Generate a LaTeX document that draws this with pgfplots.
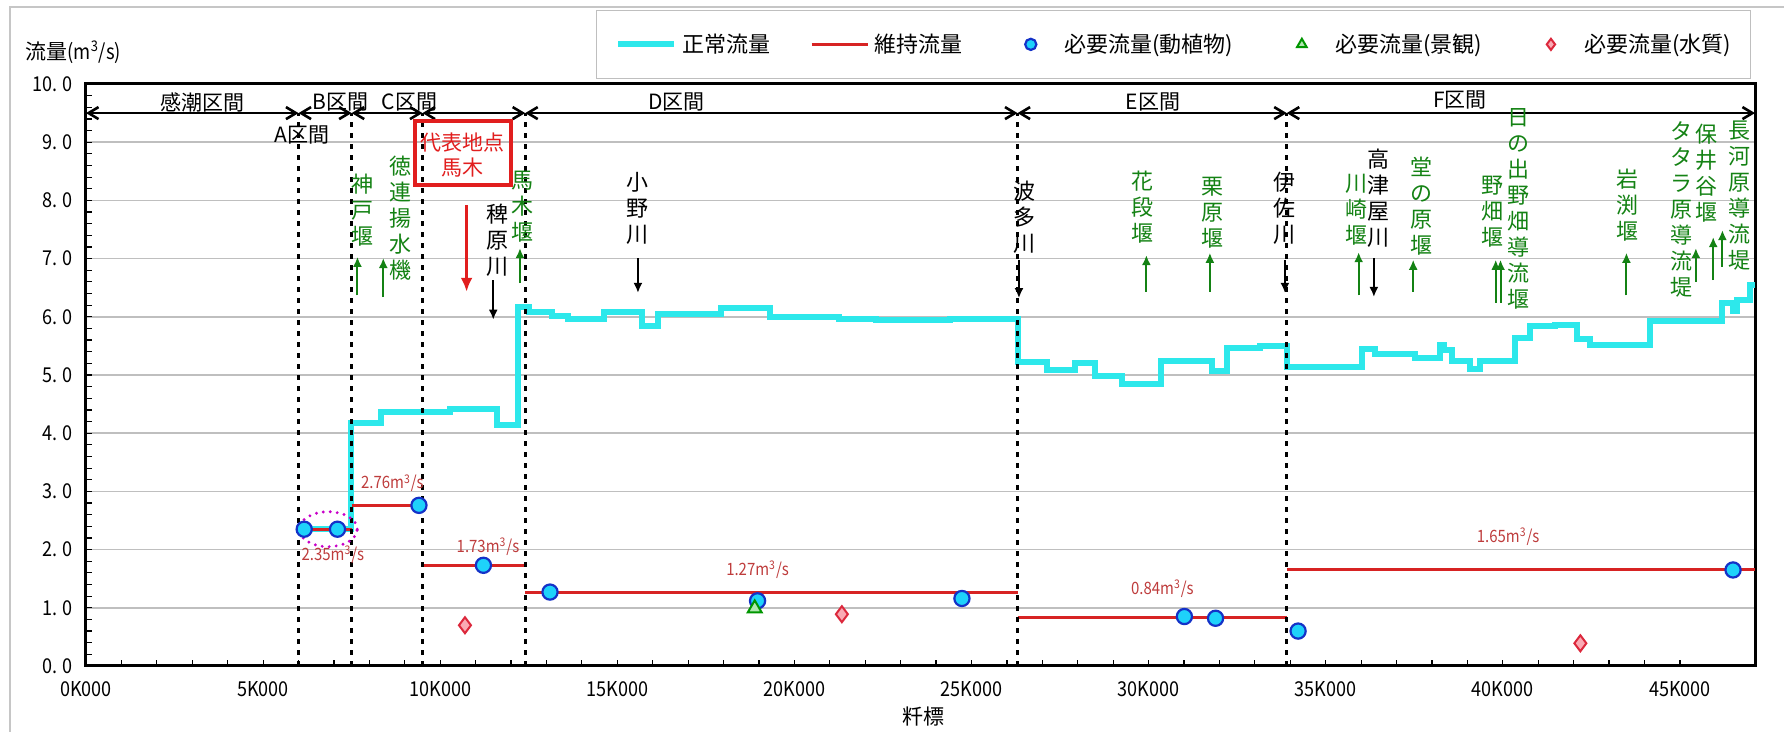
\documentclass[border=0pt]{standalone}
\usepackage{fontspec}
\setmainfont{Noto Sans CJK JP}
\newfontfamily\numfont[FakeStretch=0.88]{Noto Sans CJK JP}
\usepackage{pgfplots}
\pgfplotsset{compat=1.18}
\usetikzlibrary{arrows.meta}

\definecolor{cyanline}{RGB}{45,232,235}
\definecolor{redline}{RGB}{215,35,35}
\definecolor{circfill}{RGB}{30,210,250}
\definecolor{circdraw}{RGB}{20,50,200}
\definecolor{diafill}{RGB}{250,170,180}
\definecolor{diadraw}{RGB}{220,40,60}
\definecolor{trifill}{RGB}{175,230,175}
\definecolor{tridraw}{RGB}{0,150,0}
\definecolor{weir}{RGB}{20,130,20}
\definecolor{vallab}{RGB}{190,60,60}
\definecolor{boxred}{RGB}{225,30,30}
\definecolor{ellip}{RGB}{200,0,200}

% vertical text column: colour, x, y, text
\newcommand{\vlab}[4]{\node[text=#1, font=\fontsize{11pt}{13pt}\selectfont, align=center, inner sep=0pt] at (axis cs:#2,#3) {#4};}
% arrow: colour, x, from y, to y
\newcommand{\varr}[4]{\draw[#1, line width=1pt, -{Latex[length=5pt,width=4.5pt]}] (axis cs:#2,#3) -- (axis cs:#2,#4);}
\newcommand{\qlab}[3]{\node[text=vallab, font=\fontsize{8.5pt}{9pt}\numfont, inner sep=0pt] at (axis cs:#1,#2) {#3m\textsuperscript{3}/s};}
\pgfplotsset{secarrow/.style={black, line width=1.3pt,
  {Straight Barb[length=5pt,width=6pt]}-{Straight Barb[length=5pt,width=6pt]}, forget plot},
  secline/.style={black, line width=1.6pt, dash pattern=on 2.5pt off 3pt, forget plot},
  lineleg/.style={legend image code/.code={\draw[##1] (0pt,0pt) -- (28pt,0pt);}},
  markleg/.style={legend image code/.code={\path (0pt,0pt) (28pt,0pt); \draw[##1, mark size=2.8pt] plot coordinates {(14pt,0pt)};}}}

\begin{document}
\begin{tikzpicture}
\useasboundingbox (0,0) rectangle (892pt,366pt);
\draw[gray!45, line width=0.6pt] (5pt,0) -- (5pt,362.5pt) -- (892pt,362.5pt);
\node[anchor=west, inner sep=0pt, font=\fontsize{10.5pt}{12pt}\selectfont] at (12.5pt,340pt)
  {流量{\numfont(m\textsuperscript{3}/s)}};
\node[inner sep=0pt, font=\fontsize{10.5pt}{12pt}\selectfont] at (461.5pt,7.5pt) {粁標};

\begin{axis}[
  at={(43pt,33pt)}, anchor=south west,
  width=834.5pt, height=291pt, scale only axis,
  xmin=0, xmax=47120, ymin=0, ymax=10,
  clip=false,
  axis line style={line width=1.5pt},
  scaled x ticks=false,
  xtick={0,5000,10000,15000,20000,25000,30000,35000,40000,45000},
  xticklabels={0K000,5K000,10K000,15K000,20K000,25K000,30K000,35K000,40K000,45K000},
  ytick={0,1,2,3,4,5,6,7,8,9,10},
  yticklabels={0.\kern2.5pt0,1.\kern2.5pt0,2.\kern2.5pt0,3.\kern2.5pt0,4.\kern2.5pt0,5.\kern2.5pt0,
    6.\kern2.5pt0,7.\kern2.5pt0,8.\kern2.5pt0,9.\kern2.5pt0,10.\kern2.5pt0},
  minor x tick num=4, minor y tick num=4,
  tick pos=left, tick align=inside,
  major tick length=3pt, minor tick length=3pt,
  tick style={black, line width=0.6pt},
  ymajorgrids, grid style={line width=0.75pt, color=gray!50},
  ticklabel style={font=\fontsize{10.25pt}{12pt}\numfont},
  xticklabel style={yshift=-4pt},
  yticklabel style={xshift=-3pt},
  legend columns=5,
  legend style={at={(0.9976,1.1271)}, anchor=north east, draw=gray!50, line width=0.6pt,
    font=\fontsize{11pt}{12pt}\selectfont, inner xsep=9.5pt, inner ysep=11.5pt,
    nodes={inner sep=0pt},
    /tikz/every odd column/.append style={column sep=2.5pt},
    /tikz/every even column/.append style={column sep=20pt}},
  legend cell align=left,
]
% 正常流量
\addplot[cyanline, line width=3pt, const plot, lineleg] coordinates {
  (6000,2.35)(7470,4.18)(8320,4.37)(10270,4.42)(11590,4.14)(12200,6.16)
  (12520,6.08)(13170,6.02)(13620,5.97)(14620,6.08)(15700,5.84)(16150,6.04)
  (17930,6.15)(19300,5.99)(21270,5.97)(22300,5.94)(24380,5.96)(26300,5.23)
  (27140,5.09)(27920,5.20)(28480,4.99)(29260,4.84)(30350,5.24)(31800,5.07)
  (32220,5.47)(33140,5.49)(33920,5.14)(36030,5.45)(36390,5.36)(37520,5.30)
  (38220,5.52)(38350,5.43)(38570,5.24)(39070,5.10)(39350,5.24)(40340,5.63)
  (40760,5.84)(41470,5.86)(42100,5.61)(42460,5.52)(44150,5.93)(46200,6.23)
  (46500,6.10)(46620,6.29)(46980,6.55)(47120,6.55)};
\addlegendentry{正常流量}
% 維持流量
\addplot[redline, line width=1.5pt, jump mark left, lineleg] coordinates {
  (6000,2.35)(7500,2.76)(9500,1.73)(12400,1.27)(26300,0.84)(33900,1.65)(47120,1.65)};
\addlegendentry{維持流量}

% section boundaries
\addplot[secline] coordinates {(6000,0)(6000,9.5)};
\addplot[secline] coordinates {(7500,0)(7500,9.5)};
\addplot[secline] coordinates {(9500,0)(9500,9.5)};
\addplot[secline] coordinates {(12400,0)(12400,9.5)};
\addplot[secline] coordinates {(26300,0)(26300,9.5)};
\addplot[secline] coordinates {(33900,0)(33900,9.5)};
\addplot[secarrow] coordinates {(0,9.5)(6000,9.5)};
\addplot[secarrow] coordinates {(6000,9.5)(7500,9.5)};
\addplot[secarrow] coordinates {(7500,9.5)(9500,9.5)};
\addplot[secarrow] coordinates {(9500,9.5)(12400,9.5)};
\addplot[secarrow] coordinates {(12400,9.5)(26300,9.5)};
\addplot[secarrow] coordinates {(26300,9.5)(33900,9.5)};
\addplot[secarrow] coordinates {(33900,9.5)(47120,9.5)};

% 必要流量
\addplot[only marks, mark=*, mark size=3.8pt, mark options={fill=circfill, draw=circdraw, line width=1.1pt}, markleg] coordinates {
  (6160,2.35)(7100,2.35)(9400,2.76)(11220,1.73)(13100,1.27)(18960,1.12)
  (24730,1.16)(31010,0.85)(31890,0.82)(34220,0.60)(46500,1.65)};
\addlegendentry{必要流量(動植物)}
\addplot[only marks, mark=triangle*, mark size=4pt, mark options={fill=trifill, draw=tridraw, line width=1pt}, markleg] coordinates {
  (18880,0.99)};
\addlegendentry{必要流量(景観)}
\addplot[only marks, mark=diamond*, mark size=4pt, mark options={fill=diafill, draw=diadraw, line width=1pt}, markleg] coordinates {
  (10700,0.70)(21340,0.89)(42190,0.39)};
\addlegendentry{必要流量(水質)}

% section names
\node[font=\fontsize{10.5pt}{12pt}\selectfont] at (axis cs:3303,9.69) {感潮区間};
\node[font=\fontsize{10.5pt}{12pt}\selectfont] at (axis cs:6098,9.12) {A区間};
\node[font=\fontsize{10.5pt}{12pt}\selectfont] at (axis cs:7187,9.69) {B区間};
\node[font=\fontsize{10.5pt}{12pt}\selectfont] at (axis cs:9132,9.69) {C区間};
\node[font=\fontsize{10.5pt}{12pt}\selectfont] at (axis cs:16670,9.69) {D区間};
\node[font=\fontsize{10.5pt}{12pt}\selectfont] at (axis cs:30120,9.69) {E区間};
\node[font=\fontsize{10.5pt}{12pt}\selectfont] at (axis cs:38788,9.72) {F区間};

% representative point
\draw[boxred, line width=2pt] (axis cs:9288,9.36) rectangle (axis cs:12000,8.26);
\node[text=boxred, font=\fontsize{10.5pt}{12pt}\selectfont, inner sep=0pt] at (axis cs:10640,9.0) {代表地点};
\node[text=boxred, font=\fontsize{10.5pt}{12pt}\selectfont, inner sep=0pt] at (axis cs:10640,8.57) {馬木};
\draw[boxred, line width=1.5pt, -{Latex[length=7pt,width=6pt]}] (axis cs:10745,7.92) -- (axis cs:10745,6.43);

% tributaries and weirs
\vlab{weir}{7820}{7.84}{神\\戸\\堰}
\vlab{weir}{8892}{7.70}{徳\\連\\揚\\水\\機}
\vlab{black}{11630}{7.32}{稗\\原\\川}
\vlab{weir}{12336}{7.89}{馬\\木\\堰}
\vlab{black}{15583}{7.87}{小\\野\\川}
\vlab{black}{26508}{7.71}{波\\多\\川}
\vlab{weir}{29839}{7.89}{花\\段\\堰}
\vlab{weir}{31815}{7.78}{栗\\原\\堰}
\vlab{black}{33848}{7.87}{伊\\佐\\川}
\vlab{weir}{35880}{7.84}{川\\崎\\堰}
\vlab{black}{36501}{8.03}{高\\津\\屋\\川}
\vlab{weir}{37715}{7.90}{堂\\の\\原\\堰}
\vlab{weir}{39719}{7.80}{野\\畑\\堰}
\vlab{weir}{40453}{7.85}{日\\の\\出\\野\\畑\\導\\流\\堰}
\vlab{weir}{43530}{7.92}{岩\\渕\\堰}
\vlab{weir}{45055}{7.84}{タ\\タ\\ラ\\原\\導\\流\\堤}
\vlab{weir}{45760}{8.46}{保\\井\\谷\\堰}
\vlab{weir}{46692}{8.08}{長\\河\\原\\導\\流\\堤}

\varr{weir}{7664}{6.37}{7.03}
\varr{weir}{8393}{6.34}{7.01}
\varr{weir}{12252}{6.58}{7.18}
\varr{weir}{29937}{6.43}{7.06}
\varr{weir}{31730}{6.43}{7.10}
\varr{weir}{35930}{6.37}{7.11}
\varr{weir}{37470}{6.43}{6.98}
\varr{weir}{39800}{6.24}{6.98}
\varr{weir}{39935}{6.24}{6.98}
\varr{weir}{43490}{6.37}{7.10}
\varr{weir}{45450}{6.60}{7.18}
\varr{weir}{45940}{6.63}{7.37}
\varr{weir}{46200}{6.86}{7.49}
\varr{black}{11498}{6.63}{5.95}
\varr{black}{15583}{7.01}{6.41}
\varr{black}{26340}{6.98}{6.32}
\varr{black}{33848}{6.98}{6.41}
\varr{black}{36360}{7.01}{6.34}

% value labels
\qlab{8650}{3.14}{2.76}
\qlab{6970}{1.91}{2.35}
\qlab{11350}{2.05}{1.73}
\qlab{18960}{1.65}{1.27}
\qlab{30390}{1.33}{0.84}
\qlab{40150}{2.22}{1.65}

\draw[ellip, line width=1.6pt, line cap=round, dash pattern=on 0pt off 3.5pt]
  (axis cs:6840,2.35) ellipse [x radius=14.5pt, y radius=8.75pt];
\end{axis}
\end{tikzpicture}
\end{document}
